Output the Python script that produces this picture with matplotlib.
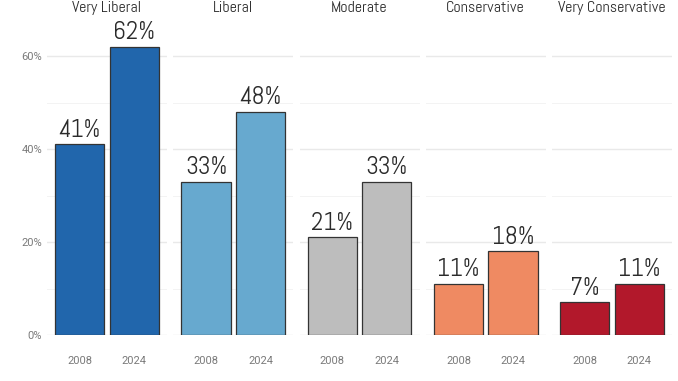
import matplotlib
matplotlib.use("Agg")
import matplotlib.pyplot as plt
import numpy as np

# data
groups = ["Very Liberal", "Liberal", "Moderate", "Conservative", "Very Conservative"]
years = ["2008", "2024"]
share_2008 = [0.41, 0.33, 0.21, 0.11, 0.07]
share_2024 = [0.62, 0.48, 0.33, 0.18, 0.11]
colors = ["#2166AC", "#67A9CF", "#BDBDBD", "#EF8A62", "#B2182B"]

W, H = 678, 381
fig = plt.figure(figsize=(W / 100, H / 100), dpi=100)
fig.patch.set_facecolor("white")

narrow = ["Abel", "Roboto Condensed", "DejaVu Sans"]
tick_font = ["Roboto", "DejaVu Sans"]

# panel geometry in pixels
left0, pw, gap = 47, 120, 6.25
top, bottom = 22, 335
ymax = (bottom - top) / 465.0

for i, g in enumerate(groups):
    x0 = left0 + i * (pw + gap)
    ax = fig.add_axes([x0 / W, 1 - bottom / H, pw / W, (bottom - top) / H])
    vals = [share_2008[i], share_2024[i]]
    xs = np.arange(1, 3)
    ax.bar(xs, vals, width=0.9, color=colors[i], edgecolor="#333333",
           linewidth=0.9, zorder=3)
    for x, v in zip(xs, vals):
        ax.text(x, v + 0.016, f"{round(v * 100):.0f}%", ha="center", va="baseline",
                fontsize=18, color="#2b2b2b", family=narrow, zorder=4)
    ax.set_xlim(0.4, 2.6)
    ax.set_ylim(0, ymax)
    for y in [0.0, 0.2, 0.4, 0.6]:
        ax.axhline(y, color="#e9e9e9", lw=1.0, zorder=1)
    for y in [0.1, 0.3, 0.5]:
        ax.axhline(y, color="#f3f3f3", lw=0.7, zorder=1)
    for s in ax.spines.values():
        s.set_visible(False)
    ax.set_xticks(xs)
    ax.set_xticklabels(years, fontsize=8, color="#7a7a7a", family=tick_font)
    ax.tick_params(axis="x", length=0, pad=15)
    if i == 0:
        ax.set_yticks([0, 0.2, 0.4, 0.6])
        ax.set_yticklabels(["0%", "20%", "40%", "60%"], fontsize=8,
                           color="#7a7a7a", family=tick_font)
        ax.tick_params(axis="y", length=0, pad=3.6)
    else:
        ax.set_yticks([])
    fig.text((x0 + pw / 2) / W, 1 - 8 / H, g, ha="center", va="center",
             fontsize=11.5, color="#2b2b2b", family=narrow)

fig.savefig("out.png", dpi=100, facecolor="white")
